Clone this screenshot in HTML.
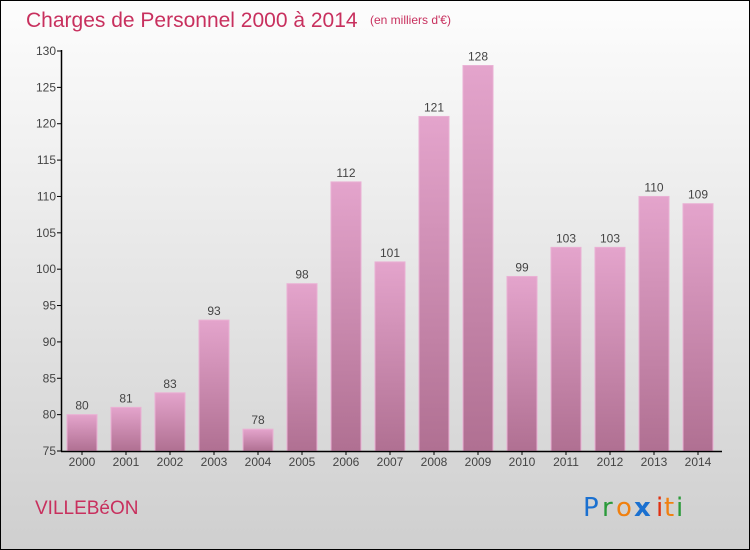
<!DOCTYPE html>
<html><head><meta charset="utf-8"><style>
body{margin:0}
#c{width:750px;height:550px;position:relative;box-sizing:border-box;border:1px solid #000;background:linear-gradient(#fdfdfd,#cfcfcf);font-family:"Liberation Sans",sans-serif;overflow:hidden}
</style></head><body>
<div id="c">
<svg width="750" height="550" style="position:absolute;left:-1px;top:-1px">
<defs><linearGradient id="bg" x1="0" y1="0" x2="0" y2="1"><stop offset="0" stop-color="#e4a4cc"/><stop offset="1" stop-color="#b07092"/></linearGradient></defs>
<text x="26" y="27" font-size="21" fill="#c8305e">Charges de Personnel 2000 à 2014</text>
<text x="370" y="24" font-size="12" fill="#c8305e">(en milliers d'€)</text>
<g id="plot"></g>
<text x="35" y="514" font-size="19" fill="#c8305e">VILLEBéON</text>
<g font-size="26" font-family="DejaVu Sans, sans-serif">
<text x="583" y="516" fill="#1a70d0">P</text><text x="602" y="516" fill="#2a9a3a">r</text><text x="616" y="516" fill="#f08010">o</text><text x="634" y="516" fill="#1a70d0" font-weight="bold">x</text><text x="656" y="516" fill="#e03010">i</text><text x="664" y="516" fill="#f08010">t</text><text x="676" y="516" fill="#2a9a3a">i</text></g>
</svg>
</div>
<script>
const years=["2000","2001","2002","2003","2004","2005","2006","2007","2008","2009","2010","2011","2012","2013","2014"];
const values=[80,81,83,93,78,98,112,101,121,128,99,103,103,110,109];
const yTicks=[75,80,85,90,95,100,105,110,115,120,125,130];
const NS="http://www.w3.org/2000/svg";
const g=document.getElementById('plot');
const y0=451,y1=51,vmin=75,vmax=130;
const y=v=>y0-(v-vmin)/(vmax-vmin)*(y0-y1);
const x=i=>82+i*44;
function mk(t,a,p){const e=document.createElementNS(NS,t);for(const k in a)e.setAttribute(k,a[k]);(p||g).appendChild(e);return e;}
yTicks.forEach(v=>{
 const t=mk('line',{x1:57,x2:62,y1:y(v),y2:y(v),stroke:'#000'});
 
 
 const l=mk('text',{x:56,y:y(v)+4,'font-size':12,'text-anchor':'end',fill:'#444'});l.textContent=v;
 
 
});
values.forEach((v,i)=>{
 const r=mk('rect',{x:x(i)-15,y:y(v),width:30,height:y0-y(v),fill:'url(#bg)',stroke:'#eab0d4','stroke-width':1});
 
 
 const t=mk('text',{x:x(i),y:y(v)-5,'font-size':12,'text-anchor':'middle',fill:'#444'});t.textContent=v;
 
 
 const tk=mk('line',{x1:x(i),x2:x(i),y1:y0,y2:y0+4,stroke:'#000'});
 
 
 const xl=mk('text',{x:x(i),y:466,'font-size':12,'text-anchor':'middle',fill:'#444'});xl.textContent=years[i];
 
 
});
const ya=mk('line',{x1:61.5,x2:61.5,y1:y1-1,y2:y0,stroke:'#000','stroke-width':1.5});


const xa=mk('line',{x1:61,x2:722,y1:y0+0.5,y2:y0+0.5,stroke:'#000','stroke-width':1.5});


</script>
</body></html>
